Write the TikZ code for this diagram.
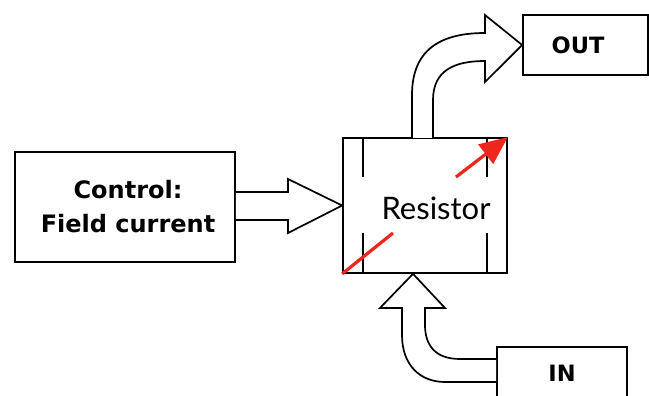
\documentclass[tikz,border=0pt]{standalone}
\usepackage{fontspec}
\setmainfont{Lato}
\newfontfamily\lblfont{DejaVu Sans}
\usetikzlibrary{arrows.meta}
\definecolor{arrowred}{RGB}{238,38,28}
\tikzset{
  box/.style={draw, line width=1.7pt, fill=white, inner sep=0pt},
  blockarrow/.style={draw, line width=1.7pt, fill=white, line join=miter},
  ticks/.style={line width=1.7pt},
  lbl/.style={font=\lblfont\fontsize{24}{34}\selectfont\bfseries, align=center},
  smalllbl/.style={font=\lblfont\fontsize{22.5}{26}\selectfont\bfseries},
  redarrow/.style={draw=arrowred, line width=3.2pt}
}
\begin{document}
\begin{tikzpicture}[x=1pt,y=-1pt]
\useasboundingbox (0,0) rectangle (649,396);
% boxes
\node[box, minimum width=220pt, minimum height=110pt] (ctrl) at (125,207) {};
\node[lbl] at (128,207) {Control:\\Field current};
\node[box, minimum width=164pt, minimum height=135pt] (res) at (425,205.5) {};
\node[font=\fontsize{31}{36}\selectfont] (restext) at (436,208) {Resistor};
\node[box, minimum width=125pt, minimum height=60pt] (out) at (585.5,45) {};
\node[smalllbl] at (578,45) {OUT};
\node[box, minimum width=130pt, minimum height=70pt] (in) at (562,382) {};
\node[smalllbl] at (562,373) {IN};
% inner ticks
\draw[ticks] (363,138) -- (363,177) (487,138) -- (487,177)
  (363,233) -- (363,273) (487,233) -- (487,273);
% control arrow
\path[blockarrow] (ctrl.east |- 0,192) -- (288,192) -- (288,179) -- (res.west) -- (288,233) -- (288,220) -- (ctrl.east |- 0,220);
% out arrow
\path[blockarrow] (412,138) -- (412,95) .. controls (412,50) and (440,33) .. (485,33) -- (485,15) -- (out.west) -- (485,82) -- (485,61)
  .. controls (455,61) and (433,70) .. (433,100) -- (433,138);
% in arrow
\path[blockarrow] (in.west |- 0,359) -- (460,359) .. controls (435,359) and (425,345) .. (425,325) -- (425,308) -- (445,308) -- (res.south -| 413,0) -- (380,308) -- (402,308) -- (402,335)
  .. controls (402,365) and (420,382) .. (445,382) -- (in.west |- 0,382);
% red arrow
\draw[redarrow] (res.south west) -- (393,233);
\draw[redarrow, -{Triangle[length=28pt,width=24pt]}] (456,177) -- (res.north east);
\end{tikzpicture}
\end{document}
